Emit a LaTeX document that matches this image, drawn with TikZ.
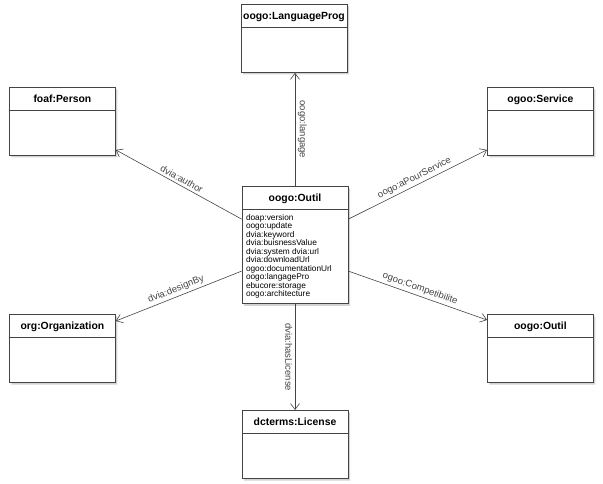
\documentclass[tikz,border=0pt]{standalone}
\usepackage{fontspec}
\setmainfont{Liberation Sans}
\usetikzlibrary{shapes.multipart,arrows.meta,shadows}

\definecolor{traco}{HTML}{444444}

\tikzset{
  classe/.style={rectangle split, rectangle split parts=2, draw=traco, fill=white,
    line width=0.8pt, minimum width=106pt, inner xsep=1pt, inner ysep=4pt,
    font=\bfseries\fontsize{10.4}{12}\selectfont,
    execute at begin node={\rule[-4pt]{0pt}{14.5pt}},
    rectangle split part align={center,left},
    drop shadow={shadow xshift=2pt, shadow yshift=-2pt, opacity=0.35}},
  rel/.style={draw=traco, line width=0.6pt, -{Straight Barb[length=6pt,width=9pt]}},
  rotulo/.style={font=\fontsize{9.5}{11}\selectfont, text=traco, inner sep=2.5pt}
}
\newcommand{\corpo}{\rule{0pt}{32pt}}

\begin{document}
\begin{tikzpicture}[x=1pt, y=-1pt]
\useasboundingbox (0,0) rectangle (603,484);

% Classes
\node[classe, anchor=north] (outil) at (295,186) {oogo:Outil
  \nodepart{second}\mdseries\fontsize{8.3}{8.4}\selectfont
  \begin{tabular}{@{\hspace{3pt}}l@{}}
  doap:version\\ oogo:update\\ dvia:keyword\\ dvia:buisnessValue\\
  dvia:system dvia:url\\ dvia:downloadUrl\\ ogoo:documentationUrl\\
  oogo:langagePro\\ ebucore:storage\\ oogo:architecture
  \end{tabular}};

\node[classe, anchor=north] (lang) at (294,4) {oogo:LanguageProg \nodepart{second}\corpo};
\node[classe, anchor=north] (licence) at (295,410) {dcterms:License \nodepart{second}\corpo};
\node[classe, anchor=north west] (pessoa) at (9,87) {foaf:Person \nodepart{second}\corpo};
\node[classe, anchor=north west] (servico) at (487,87) {ogoo:Service \nodepart{second}\corpo};
\node[classe, anchor=north west] (org) at (9,314) {org:Organization \nodepart{second}\corpo};
\node[classe, anchor=north west] (outil2) at (487,314) {oogo:Outil \nodepart{second}\corpo};

% Relacoes
\draw[rel] (outil.north) -- node[rotulo, anchor=south, rotate=-90] {oogo:langage} (outil.north |- lang.south);
\draw[rel] (outil.south) -- node[rotulo, anchor=north, rotate=-90] {dvia:hasLicense} (licence.north);
\draw[rel] ([yshift=26pt]outil.west) -- node[rotulo, sloped, above] {dvia:author} ([yshift=6pt]pessoa.south east);
\draw[rel] ([yshift=-26pt]outil.west) -- node[rotulo, sloped, above] {dvia:designBy} ([yshift=-7pt]org.north east);
\draw[rel] ([yshift=26pt]outil.east) -- node[rotulo, sloped, above] {oogo:aPourService} ([yshift=6pt]servico.south west);
\draw[rel] ([yshift=-26pt]outil.east) -- node[rotulo, sloped, above] {ogoo:Competibilite} ([yshift=-6pt]outil2.north west);
\end{tikzpicture}
\end{document}
